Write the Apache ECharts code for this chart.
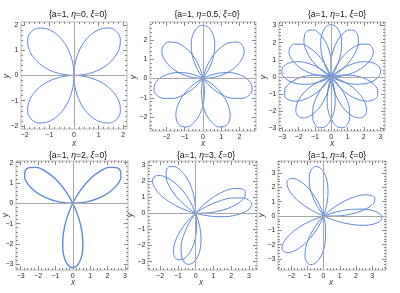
<!DOCTYPE html>
<html><head><meta charset="utf-8">
<script src="https://cdn.jsdelivr.net/npm/echarts@6/dist/echarts.min.js"></script>
<style>html,body{margin:0;padding:0;background:#fff}#c{width:400px;height:293px}</style>
</head><body><div id="c"></div>
<script>
// ---------- data (polar samples: [angle in degrees, radius]) ----------
const etaLabels = ['0', '0.5', '1', '2', '3', '4'];

const curveEta0 = [
 [0,0],[7.5,.63],[15,1.23],[22.5,1.73],[30,2.12],[37.5,2.37],[45,2.45],[52.5,2.37],[60,2.12],[67.5,1.73],[75,1.23],[82.5,.63],[90,0],
 [277.5,.63],[285,1.23],[292.5,1.73],[300,2.12],[307.5,2.37],[315,2.45],[322.5,2.37],[330,2.12],[337.5,1.73],[345,1.23],[352.5,.63],[360,0],
 [187.5,.63],[195,1.23],[202.5,1.73],[210,2.12],[217.5,2.37],[225,2.45],[232.5,2.37],[240,2.12],[247.5,1.73],[255,1.23],[262.5,.63],[270,0],
 [97.5,.63],[105,1.23],[112.5,1.73],[120,2.12],[127.5,2.37],[135,2.45],[142.5,2.37],[150,2.12],[157.5,1.73],[165,1.23],[172.5,.63],[180,0]];

const curveEta05 = [
 [51.4,0],[57.9,.71],[64.3,1.38],[70.7,1.94],[77.1,2.38],[83.6,2.66],[90,2.75],[96.4,2.66],[102.9,2.38],[109.3,1.94],[115.7,1.38],[122.1,.71],[128.6,0],
 [315,.71],[321.4,1.38],[327.9,1.94],[334.3,2.38],[340.7,2.66],[347.1,2.75],[353.6,2.66],[360,2.38],[366.4,1.94],[372.9,1.38],[379.3,.71],[385.7,0],
 [212.1,.71],[218.6,1.38],[225,1.94],[231.4,2.38],[237.9,2.66],[244.3,2.75],[250.7,2.66],[257.1,2.38],[263.6,1.94],[270,1.38],[276.4,.71],[282.9,0],
 [109.3,.71],[115.7,1.38],[122.1,1.94],[128.6,2.38],[135,2.66],[141.4,2.75],[147.9,2.66],[154.3,2.38],[160.7,1.94],[167.1,1.38],[173.6,.71],[180,0],
 [6.4,.71],[12.9,1.38],[19.3,1.94],[25.7,2.38],[32.1,2.66],[38.6,2.75],[45,2.66],[51.4,2.38],[57.9,1.94],[64.3,1.38],[70.7,.71],[77.1,0],
 [263.6,.71],[270,1.38],[276.4,1.94],[282.9,2.38],[289.3,2.66],[295.7,2.75],[302.1,2.66],[308.6,2.38],[315,1.94],[321.4,1.38],[327.9,.71],[334.3,0],
 [160.7,.71],[167.1,1.38],[173.6,1.94],[180,2.38],[186.4,2.66],[192.9,2.75],[199.3,2.66],[205.7,2.38],[212.1,1.94],[218.6,1.38],[225,.71],[231.4,0]];

const curveEta1 = [
 [55.4,0],[61.2,.79],[66.9,1.53],[72.7,2.16],[78.5,2.64],[84.2,2.95],[90,3.05],[95.8,2.95],[101.5,2.64],[107.3,2.16],[113.1,1.53],[118.8,.79],[124.6,0],
 [310.4,.79],[316.2,1.53],[321.9,2.16],[327.7,2.64],[333.5,2.95],[339.2,3.05],[345,2.95],[350.8,2.64],[356.5,2.16],[362.3,1.53],[368.1,.79],[373.8,0],
 [199.6,.79],[205.4,1.53],[211.2,2.16],[216.9,2.64],[222.7,2.95],[228.5,3.05],[234.2,2.95],[240,2.64],[245.8,2.16],[251.5,1.53],[257.3,.79],[263.1,0],
 [88.8,.79],[94.6,1.53],[100.4,2.16],[106.2,2.64],[111.9,2.95],[117.7,3.05],[123.5,2.95],[129.2,2.64],[135,2.16],[140.8,1.53],[146.5,.79],[152.3,0],
 [338.1,.79],[343.8,1.53],[349.6,2.16],[355.4,2.64],[361.2,2.95],[366.9,3.05],[372.7,2.95],[378.5,2.64],[384.2,2.16],[390,1.53],[395.8,.79],[401.5,0],
 [227.3,.79],[233.1,1.53],[238.8,2.16],[244.6,2.64],[250.4,2.95],[256.2,3.05],[261.9,2.95],[267.7,2.64],[273.5,2.16],[279.2,1.53],[285,.79],[290.8,0],
 [116.5,.79],[122.3,1.53],[128.1,2.16],[133.8,2.64],[139.6,2.95],[145.4,3.05],[151.2,2.95],[156.9,2.64],[162.7,2.16],[168.5,1.53],[174.2,.79],[180,0],
 [5.8,.79],[11.5,1.53],[17.3,2.16],[23.1,2.64],[28.8,2.95],[34.6,3.05],[40.4,2.95],[46.2,2.64],[51.9,2.16],[57.7,1.53],[63.5,.79],[69.2,0],
 [255,.79],[260.8,1.53],[266.5,2.16],[272.3,2.64],[278.1,2.95],[283.8,3.05],[289.6,2.95],[295.4,2.64],[301.2,2.16],[306.9,1.53],[312.7,.79],[318.5,0],
 [144.2,.79],[150,1.53],[155.8,2.16],[161.5,2.64],[167.3,2.95],[173.1,3.05],[178.8,2.95],[184.6,2.64],[190.4,2.16],[196.2,1.53],[201.9,.79],[207.7,0],
 [33.5,.79],[39.2,1.53],[45,2.16],[50.8,2.64],[56.5,2.95],[62.3,3.05],[68.1,2.95],[73.8,2.64],[79.6,2.16],[85.4,1.53],[91.2,.79],[96.9,0],
 [282.7,.79],[288.5,1.53],[294.2,2.16],[300,2.64],[305.8,2.95],[311.5,3.05],[317.3,2.95],[323.1,2.64],[328.8,2.16],[334.6,1.53],[340.4,.79],[346.2,0],
 [171.9,.79],[177.7,1.53],[183.5,2.16],[189.2,2.64],[195,2.95],[200.8,3.05],[206.5,2.95],[212.3,2.64],[218.1,2.16],[223.8,1.53],[229.6,.79],[235.4,0]];

const curveEta2 = [
 [0,0],[5,.82],[10,1.59],[15,2.24],[20,2.75],[25,3.06],[30,3.17],[35,3.06],[40,2.75],[45,2.24],[50,1.59],[55,.82],[60,0],
 [245,.82],[250,1.59],[255,2.24],[260,2.75],[265,3.06],[270,3.17],[275,3.06],[280,2.75],[285,2.24],[290,1.59],[295,.82],[300,0],
 [125,.82],[130,1.59],[135,2.24],[140,2.75],[145,3.06],[150,3.17],[155,3.06],[160,2.75],[165,2.24],[170,1.59],[175,.82],[180,0]];

const curveEta3 = [
 [-1.7,0],[2.9,.80],[7.5,1.55],[12.2,2.19],[16.8,2.68],[21.4,2.99],[26,3.1],[30.6,2.99],[35.2,2.68],[39.9,2.19],[44.5,1.55],[49.1,.80],[53.7,0],
 [239.4,.83],[244,1.6],[248.7,2.26],[253.3,2.77],[257.9,3.09],[262.5,3.2],[267.1,3.09],[271.7,2.77],[276.4,2.26],[281,1.6],[285.6,.83],[290.2,0],
 [112.9,.84],[117.5,1.63],[122.2,2.3],[126.8,2.81],[131.4,3.14],[136,3.25],[140.6,3.14],[145.2,2.81],[149.9,2.3],[154.5,1.63],[159.1,.84],[163.7,0],
 [-12.1,.83],[-7.5,1.6],[-2.9,2.26],[1.8,2.77],[6.4,3.09],[11,3.2],[15.6,3.09],[20.2,2.77],[24.9,2.26],[29.5,1.6],[34.1,.83],[38.7,0],
 [227.9,.79],[232.5,1.53],[237.2,2.16],[241.8,2.64],[246.4,2.95],[251,3.05],[255.6,2.95],[260.2,2.64],[264.9,2.16],[269.5,1.53],[274.1,.79],[278.7,0],
 [93.9,.84],[98.5,1.63],[103.2,2.3],[107.8,2.81],[112.4,3.14],[117,3.25],[121.6,3.14],[126.2,2.81],[130.9,2.3],[135.5,1.63],[140.1,.84],[144.7,0]];

const curveEta4 = [
 [-4,0],[.3,.88],[4.6,1.7],[8.8,2.4],[13.1,2.94],[17.4,3.28],[21.7,3.4],[26,3.28],[30.3,2.94],[34.6,2.4],[38.8,1.7],[43.1,.88],[47.4,0],
 [235,.91],[239.3,1.75],[243.5,2.47],[247.8,3.03],[252.1,3.38],[256.4,3.5],[260.7,3.38],[265,3.03],[269.3,2.47],[273.5,1.75],[277.8,.91],[282.1,0],
 [108.6,.87],[112.9,1.68],[117.1,2.37],[121.4,2.9],[125.7,3.24],[130,3.35],[134.3,3.24],[138.6,2.9],[142.9,2.37],[147.1,1.68],[151.4,.87],[155.7,0],
 [-23.4,.93],[-19.1,1.8],[-14.9,2.55],[-10.6,3.12],[-6.3,3.48],[-2,3.6],[2.3,3.48],[6.6,3.12],[10.9,2.55],[15.1,1.8],[19.4,.93],[23.7,0],
 [203.6,.91],[207.9,1.75],[212.1,2.47],[216.4,3.03],[220.7,3.38],[225,3.5],[229.3,3.38],[233.6,3.03],[237.9,2.47],[242.1,1.75],[246.4,.91],[250.7,0],
 [76.6,.91],[80.9,1.75],[85.1,2.47],[89.4,3.03],[93.7,3.38],[98,3.5],[102.3,3.38],[106.6,3.03],[110.9,2.47],[115.1,1.75],[119.4,.91],[123.7,0]];

const xTicks1 = [-2,-1,0,1,2], yTicks1 = [-2,-1,0,1,2];
const xTicks2 = [-2,-1,0,1,2], yTicks2 = [-2,-1,0,1,2];
const xTicks3 = [-3,-2,-1,0,1,2,3], yTicks3 = [-3,-2,-1,0,1,2,3];
const xTicks4 = [-3,-2,-1,0,1,2,3], yTicks4 = [-3,-2,-1,0,1,2];
const xTicks5 = [-2,-1,0,1,2,3], yTicks5 = [-3,-2,-1,0,1,2,3];
const xTicks6 = [-2,-1,0,1,2,3], yTicks6 = [-3,-2,-1,0,1,2,3];

// ---------- layout ----------
const curves = [curveEta0, curveEta05, curveEta1, curveEta2, curveEta3, curveEta4];
const xTicks = [xTicks1, xTicks2, xTicks3, xTicks4, xTicks5, xTicks6];
const yTicks = [yTicks1, yTicks2, yTicks3, yTicks4, yTicks5, yTicks6];
const layout = [
  {g:{left:21, top:22, width:106, height:107}, xr:[-2.15,2.15], yr:[-2.12,2.12], t:[73,10], xl:[74,144], yl:[6.5,76], w:1},
  {g:{left:150, top:22, width:106, height:109}, xr:[-2.9,2.9], yr:[-2.72,2.92], t:[202,10], xl:[203,144], yl:[134,77], w:1},
  {g:{left:279, top:22, width:106, height:109}, xr:[-3.2,3.3], yr:[-3.15,3.2], t:[332,10], xl:[332,144], yl:[264,77], w:1},
  {g:{left:16, top:161, width:112, height:109}, xr:[-3.27,3.18], yr:[-3.28,2.08], t:[73,151], xl:[73,283], yl:[6,215], w:1.4},
  {g:{left:148, top:161, width:109, height:109}, xr:[-2.68,3.45], yr:[-3.52,3.25], t:[201,151], xl:[201,283], yl:[131,215], w:1},
  {g:{left:278, top:161, width:108, height:109}, xr:[-2.81,3.85], yr:[-3.78,3.85], t:[332,151], xl:[331,283], yl:[262,215], w:1}
];

const FONT = 'Liberation Sans';
const lineColor = '#5d88dc';
const fmt = v => (v < 0 ? '\u2212' : '') + Math.abs(v);
function minorTicks(r) {
  const out = [];
  for (let k = Math.ceil(r[0] * 5); k <= Math.floor(r[1] * 5); k++) {
    if (k % 5 !== 0) out.push(k / 5);
  }
  return out;
}
function toXY(c) { return c.map(p => [p[1] * Math.cos(p[0] * Math.PI / 180), p[1] * Math.sin(p[0] * Math.PI / 180)]); }

const grid = [], xAxis = [], yAxis = [], series = [], title = [], graphic = [];
layout.forEach((L, i) => {
  grid.push(Object.assign({show: true, borderColor: '#b9b9b9', borderWidth: 1, backgroundColor: 'transparent'}, L.g));
  const mk = (dim, pos, ticks, len, labels, r) => ({
    gridIndex: i, type: 'value', min: r[0], max: r[1], position: pos,
    axisLine: {show: false, onZero: false}, splitLine: {show: false},
    axisTick: {show: true, inside: true, length: len, lineStyle: {color: '#8a8a8a', width: 1}, customValues: ticks},
    axisLabel: labels ? {show: true, customValues: ticks, formatter: fmt, fontSize: 7, color: '#2a2a2a', fontFamily: FONT, margin: dim === 'x' ? 3 : 2.5} : {show: false}
  });
  const mx = minorTicks(L.xr), my = minorTicks(L.yr);
  xAxis.push(mk('x','bottom', xTicks[i], 4, true, L.xr), mk('x','top', xTicks[i], 4, false, L.xr),
             mk('x','bottom', mx, 2, false, L.xr), mk('x','top', mx, 2, false, L.xr));
  yAxis.push(mk('y','left', yTicks[i], 4, true, L.yr), mk('y','right', yTicks[i], 4, false, L.yr),
             mk('y','left', my, 2, false, L.yr), mk('y','right', my, 2, false, L.yr));
  series.push({
    type: 'line', xAxisIndex: i * 4, yAxisIndex: i * 4, data: [], z: 1, silent: true,
    markLine: {silent: true, symbol: ['none','none'], label: {show: false}, animation: false,
      lineStyle: {color: '#a6a6a6', width: 1, type: 'solid'}, emphasis: {disabled: true},
      data: [{xAxis: 0}, {yAxis: 0}]}
  });
  series.push({
    type: 'line', xAxisIndex: i * 4, yAxisIndex: i * 4, data: toXY(curves[i]), z: 3,
    showSymbol: false, smooth: 0.35, clip: true, silent: true,
    lineStyle: {color: lineColor, width: L.w}
  });
  title.push({
    text: '{a=1, {i|\u03B7}=' + etaLabels[i] + ', {i|\u03BE}=0}',
    left: L.t[0], top: L.t[1] - 5, textAlign: 'center',
    textStyle: {fontSize: 8.6, fontWeight: 'normal', color: '#111', fontFamily: FONT,
      rich: {i: {fontStyle: 'italic', fontSize: 8.6, color: '#111', fontFamily: FONT}}}
  });
  graphic.push({type: 'text', x: L.xl[0], y: L.xl[1], silent: true,
    style: {text: 'x', fontSize: 8.5, fontStyle: 'italic', fontFamily: FONT, fill: '#444', align: 'center', verticalAlign: 'middle'}});
  graphic.push({type: 'text', x: L.yl[0], y: L.yl[1], rotation: Math.PI / 2, silent: true,
    style: {text: 'y', fontSize: 8.5, fontStyle: 'italic', fontFamily: FONT, fill: '#444', align: 'center', verticalAlign: 'middle'}});
});

const chart = echarts.init(document.getElementById('c'), null, {renderer: 'canvas'});
chart.setOption({animation: false, backgroundColor: '#fff', title, grid, xAxis, yAxis, series, graphic});
</script>
</body></html>
